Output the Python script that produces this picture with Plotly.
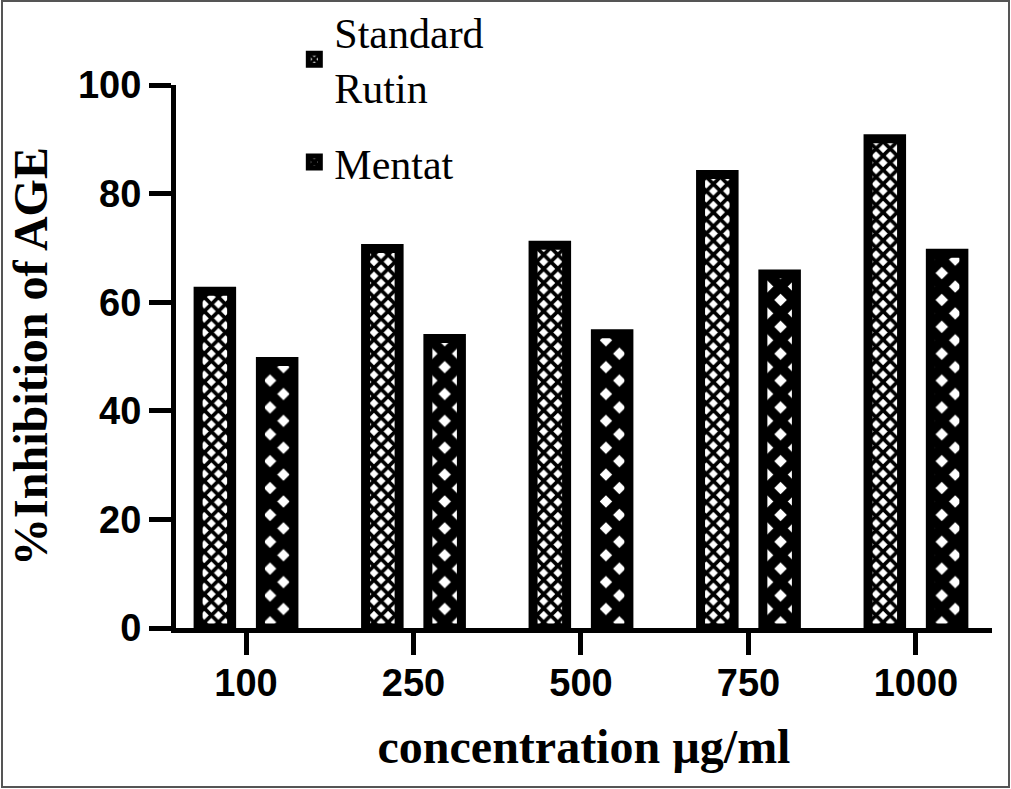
import plotly.graph_objects as go

categories = ["100", "250", "500", "750", "1000"]
rutin = [62.0, 69.9, 70.5, 83.5, 90.1]
mentat = [49.1, 53.3, 54.2, 65.2, 69.0]
y_ticks = [0, 20, 40, 60, 80, 100]

fig = go.Figure()
fig.add_trace(go.Bar(
    name="Standard<br>Rutin", x=categories, y=rutin, legendgroup="a",
    marker=dict(color="white", line=dict(color="black", width=9),
                pattern=dict(shape="x", fgcolor="black", bgcolor="white",
                             fgopacity=1, fillmode="replace", size=10, solidity=0.6)),
))
fig.add_trace(go.Bar(
    name="Mentat", x=categories, y=mentat, legendgroup="b",
    marker=dict(color="white", line=dict(color="black", width=9),
                pattern=dict(shape="x", fgcolor="black", bgcolor="white",
                             fgopacity=1, fillmode="replace", size=19, solidity=0.78)),
))

serif = "Liberation Serif"
sans = "Liberation Sans"

L, R, T, B = 176, 19, 85, 161
fig.update_layout(
    width=1011, height=789,
    margin=dict(l=L, r=R, t=T, b=B, autoexpand=False),
    paper_bgcolor="white", plot_bgcolor="white",
    barmode="group", bargap=0.256, bargroupgap=0.462,
    showlegend=True,
    legend=dict(x=0.145, y=1.16, xanchor="left", yanchor="top",
                font=dict(family=serif, size=42, color="black"),
                bgcolor="rgba(0,0,0,0)", tracegroupgap=18),
    xaxis=dict(
        type="category", range=[-0.418, 4.454],
        showline=True, linecolor="black", linewidth=5,
        ticks="outside", ticklen=22, tickwidth=5, tickcolor="black",
        tickfont=dict(family=sans, size=38, color="black", weight="bold"),
        ticklabelstandoff=-5,
        showgrid=False, zeroline=False,
        title=dict(text="concentration µg/ml", standoff=28,
                   font=dict(family=serif, size=48, color="black", weight="bold")),
    ),
    yaxis=dict(
        range=[0, 100], tickvals=y_ticks,
        showline=True, linecolor="black", linewidth=5,
        ticks="outside", ticklen=22, tickwidth=5, tickcolor="black",
        tickfont=dict(family=sans, size=38, color="black", weight="bold"),
        ticklabelstandoff=0,
        showgrid=False, zeroline=False,
        title=dict(text="%Inhibition of AGE", standoff=17,
                   font=dict(family=serif, size=48, color="black", weight="bold")),
    ),
    shapes=[dict(type="rect", xref="paper", yref="paper",
                 x0=-(L - 2) / 816, x1=(1009 - L) / 816,
                 y0=-(787 - 628) / 543, y1=(628 - 1) / 543,
                 line=dict(color="#555555", width=2), layer="below")],
)

fig.write_html("out.html", post_script="document.body.style.margin='0';",
               config={"displayModeBar": False})
